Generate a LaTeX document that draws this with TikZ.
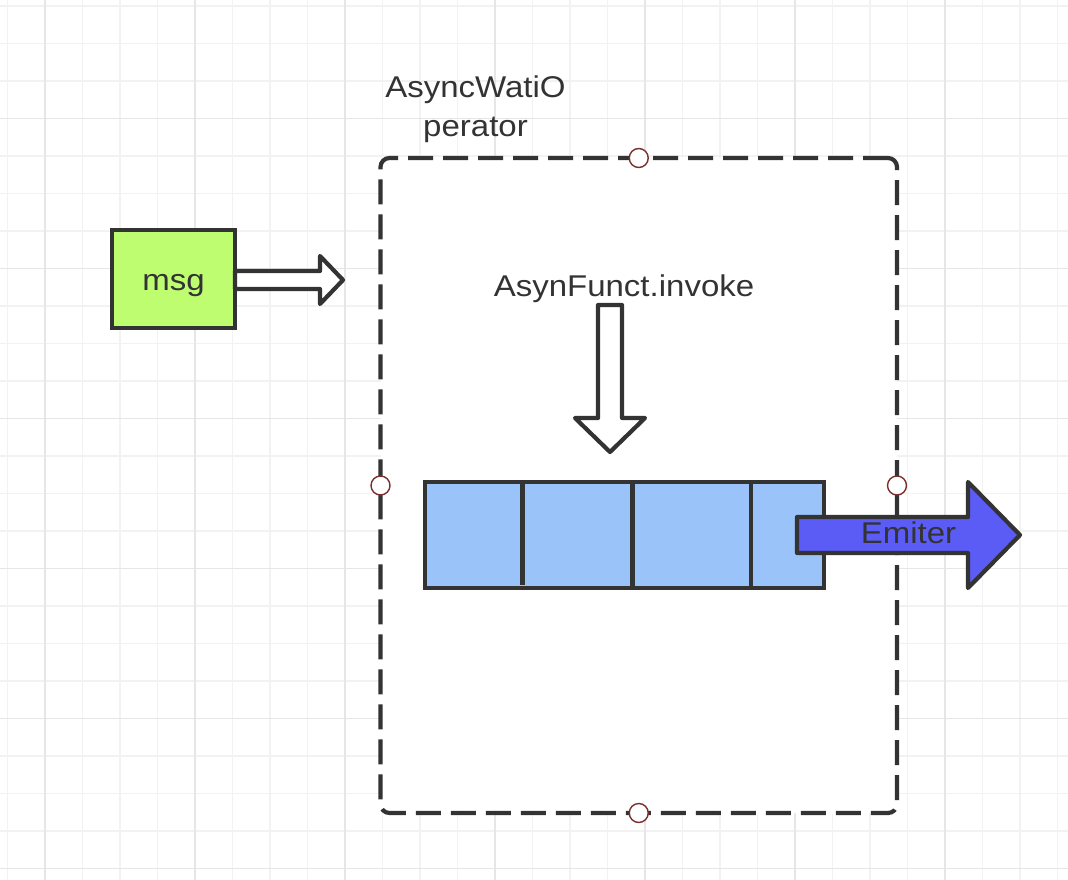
\documentclass[tikz,border=0pt]{standalone}
\usepackage{fontspec}
\setmainfont{Liberation Sans}[FakeStretch=1.1]
\usetikzlibrary{calc}
\definecolor{ink}{HTML}{333333}
\definecolor{gridminor}{HTML}{F2F2F2}
\definecolor{gridmajor}{HTML}{E6E6E6}
\definecolor{msggreen}{HTML}{BEFD70}
\definecolor{qblue}{HTML}{9AC3F9}
\definecolor{emblue}{HTML}{5A5CF5}
\definecolor{anchorred}{HTML}{7B2E2E}
\tikzset{
  minorline/.style={draw=gridminor, line width=1.2pt},
  majorline/.style={draw=gridmajor, line width=1.6pt},
  boxstyle/.style={draw=ink, line width=4.2pt, outer sep=0pt, inner sep=0pt},
  container/.style={boxstyle, fill=white, dash pattern=on 25pt off 10pt, rounded corners=9pt},
  handle/.style={circle, draw=anchorred, line width=1.4pt, fill=white, minimum size=19pt, inner sep=0pt},
  txt/.style={text=ink, font=\fontsize{30}{39}\selectfont, inner sep=0pt},
  hollow/.style={draw=ink, line width=4.2pt, fill=white, line join=round},
  solidarrow/.style={draw=ink, line width=4.2pt, fill=emblue, line join=round},
  divider/.style={draw=ink, line width=4.2pt}
}
\begin{document}
\begin{tikzpicture}[x=1pt,y=-1pt]
\fill[white] (0,0) rectangle (1068,880);
\useasboundingbox (0,0) rectangle (1068,880);
% grid
\foreach \i in {0,...,28} {
  \pgfmathsetmacro\xx{7.5+37.5*\i}
  \draw[minorline] (\xx,0) -- (\xx,880);
}
\foreach \i in {0,...,23} {
  \pgfmathsetmacro\yy{6+37.5*\i}
  \draw[minorline] (0,\yy) -- (1068,\yy);
}
\foreach \i in {0,...,6} {
  \pgfmathsetmacro\xx{45+150*\i}
  \draw[majorline] (\xx,0) -- (\xx,880);
}
\foreach \i in {0,...,5} {
  \pgfmathsetmacro\yy{118.5+150*\i}
  \draw[majorline] (0,\yy) -- (1068,\yy);
}
% container
\node[container, minimum width=516.5pt, minimum height=655pt] (cont) at (638.75,485.5) {};
\node[txt, align=center, anchor=base] (title) at (475.5,136.5) {AsyncWatiO\\perator};
% msg
\node[boxstyle, fill=msggreen, minimum width=123pt, minimum height=98pt] (msg) at (173.5,279) {};
\node[txt, font=\fontsize{30}{36}\selectfont, anchor=base] (msgtext) at (msg.center |- 0,290) {msg};
\draw[hollow] (msg.east |- 0,271) -- (320,271) -- (320,256) -- (343,280) -- (320,304) -- (320,289) -- (msg.east |- 0,289) -- cycle;
% invoke
\node[txt, anchor=base] (invoke) at (624,296) {AsynFunct.invoke};
% queue
\node[boxstyle, fill=qblue, minimum width=399pt, minimum height=106pt] (queue) at (624.5,535) {};
\draw[divider] (522.5,0 |- queue.north) -- (522.5,585);
\draw[divider] (632.5,0 |- queue.north) -- (632.5,586);
\draw[divider] (751,0 |- queue.north) -- (751,586);
\coordinate (downtop) at (610,305);
\draw[hollow] ($(downtop)+(-12,0)$) -- ($(downtop)+(12,0)$) -- (622,418) -- (645,418) -- (610,452) -- (575,418) -- (598,418) -- cycle;
% handles
\node[handle] (hn) at (cont.north) {};
\node[handle] (hs) at (cont.south) {};
\node[handle] (hw) at (cont.west) {};
\node[handle] (he) at (cont.east) {};
% emiter
\draw[solidarrow] (797,517) -- (968,517) -- (968,482) -- (1020,535) -- (968,588) -- (968,553) -- (797,553) -- cycle;
\node[txt, anchor=base] (emiter) at (908.5,543) {Emiter};
\end{tikzpicture}
\end{document}
